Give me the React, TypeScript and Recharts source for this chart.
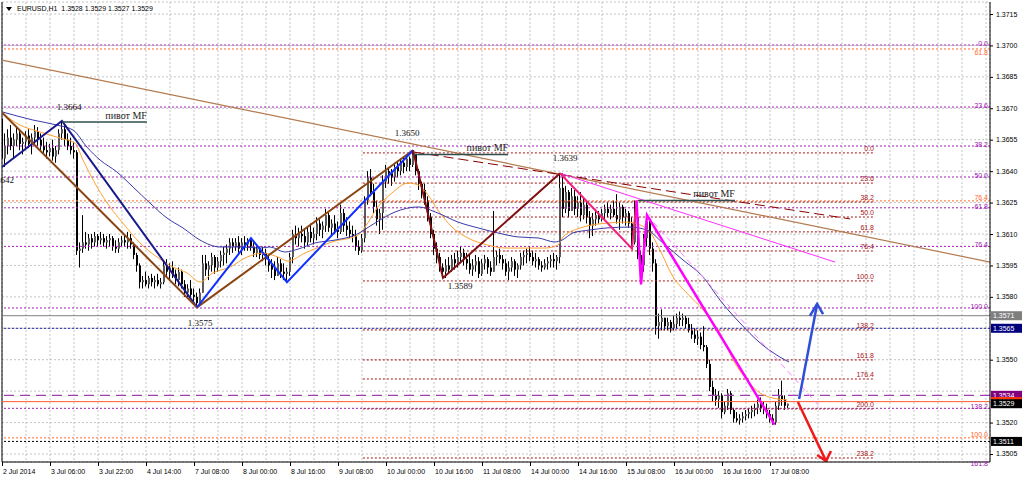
import React from 'react';
import { ComposedChart, Bar, Line, XAxis, YAxis, CartesianGrid, ReferenceLine, ReferenceDot } from 'recharts';

const W = 1024;
const H = 482;
const X_MIN = 0;
const X_MAX = 329.33;
const Y_MIN = 1.350118;
const Y_MAX = 1.372073;
const SANS = '"Liberation Sans", Arial, sans-serif';
const SERIF = '"Liberation Serif", "Times New Roman", serif';

// prices are kept in pips above 1.3500
const BASE = 1.35;
const px = (p: number) => BASE + p / 10000;

// ---- H1 candles (index = hour bar, 2 Jul 14:00 = 0) ----
const firstOpen = 165;
const highs = [
  168,158,160,162,158,161,160,156,159,160,
  158,162,161,158,156,154,153,155,152,160,
  164,162,158,156,154,150,106,119,111,110,
  110,111,110,111,110,109,110,109,107,108,
  109,110,111,110,106,101,96,90,92,90,
  91,90,91,89,97,98,96,97,93,94,
  93,88,86,88,84,82,84,100,100,97,
  101,100,99,102,104,105,108,108,108,109,
  108,109,108,108,106,105,104,104,103,100,
  98,97,99,98,96,94,101,112,114,113,
  114,112,113,115,113,118,117,116,122,120,
  117,119,116,124,122,118,116,114,112,107,
  110,128,140,141,134,126,122,138,143,142,
  141,144,145,146,147,148,147,150,148,141,
  135,134,128,120,112,106,101,96,98,99,
  100,101,102,104,103,101,100,98,100,99,
  98,100,99,97,121,102,103,100,98,97,
  99,98,96,101,102,103,104,102,101,99,
  97,98,99,100,101,100,139,139,133,131,
  132,131,128,130,127,126,121,120,122,121,
  122,124,125,124,126,129,125,124,122,121,
  118,126,120,102,110,119,118,106,98,72,
  74,70,70,69,71,72,73,72,71,70,
  67,65,64,63,66,57,50,40,36,35,
  34,30,36,35,27,25,24,25,26,27,
  28,29,31,32,30,29,26,24,30,36,
  40,33,29,
];
const lows = [
  142,142,148,150,146,152,150,148,150,151,
  148,153,152,150,148,146,147,145,144,148,
  155,152,150,148,146,100,94,101,103,102,
  103,104,104,105,104,103,104,102,101,101,
  104,104,103,103,98,92,84,84,85,84,
  85,84,85,84,86,90,88,89,86,85,
  84,80,79,80,78,75,76,82,90,88,
  92,91,92,94,95,96,100,101,102,101,
  100,102,102,102,99,99,98,97,95,92,
  89,88,90,89,88,87,90,96,105,104,
  106,103,104,106,105,107,109,108,111,111,
  109,110,108,110,111,109,108,106,102,100,
  101,106,124,128,120,114,110,112,132,134,
  133,135,137,138,139,140,140,142,138,131,
  127,124,116,108,100,96,92,89,89,91,
  92,93,94,96,95,93,91,90,92,89,
  90,93,91,90,92,95,96,93,90,88,
  92,90,89,93,95,96,97,95,94,93,
  92,93,93,94,94,93,96,118,120,118,
  122,119,118,116,117,115,108,109,114,115,
  116,117,118,117,118,115,112,115,114,113,
  103,105,98,86,92,104,100,92,62,60,
  64,64,64,63,64,65,66,66,65,63,
  60,58,57,55,54,46,35,30,28,27,
  22,24,26,24,20,20,19,20,21,22,
  22,23,24,25,24,22,20,19,19,26,
  28,26,27,
];
const closes = [
  146,152,156,152,155,158,153,154,157,153,
  156,159,155,152,150,149,151,147,150,158,
  160,155,152,150,149,102,103,106,105,108,
  106,109,107,108,106,107,108,104,103,106,
  107,106,108,105,100,95,87,88,86,89,
  87,88,86,87,95,92,94,91,88,92,
  86,82,84,81,80,77,82,96,93,95,
  99,94,97,100,101,103,106,104,106,103,
  106,105,107,104,101,103,100,101,98,95,
  93,90,96,92,91,92,99,110,108,110,
  109,106,111,108,110,115,112,114,119,113,
  115,112,111,120,114,112,110,109,104,102,
  108,126,137,130,123,117,120,135,140,139,
  137,142,140,144,142,146,143,148,140,134,
  131,126,118,110,103,99,94,92,95,93,
  98,96,99,101,98,96,93,95,97,91,
  96,98,94,92,99,100,98,96,92,94,
  97,93,95,99,100,101,99,97,98,95,
  94,96,97,98,97,99,132,122,130,121,
  128,122,125,119,124,118,114,117,119,117,
  120,122,120,122,119,117,123,118,120,115,
  106,118,100,95,108,116,103,96,66,68,
  70,66,68,65,67,70,69,70,67,64,
  62,60,61,57,56,48,37,33,31,33,
  25,28,34,26,22,21,22,23,24,25,
  26,27,29,27,26,24,22,20,28,33,
  31,28,29,
];

// ---- axes ----
const xLabels = ['2 Jul 2014','3 Jul 06:00','3 Jul 22:00','4 Jul 14:00','7 Jul 08:00','8 Jul 00:00','8 Jul 16:00','9 Jul 08:00','10 Jul 00:00','10 Jul 16:00','11 Jul 08:00','14 Jul 00:00','14 Jul 16:00','15 Jul 08:00','16 Jul 00:00','16 Jul 16:00','17 Jul 08:00'];
const xGridBars = [0,8,16,24,32,40,48,56,64,72,80,88,96,104,112,120,128,136,144,152,160,168,176,184,192,200,208,216,224,232,240,248,256,264,272,280,288,296,304,312,320,328];
const yTicks = [1.3505,1.352,1.3535,1.355,1.3565,1.358,1.3595,1.361,1.3625,1.364,1.3655,1.367,1.3685,1.37,1.3715];
const yTicksHidden = [1.3535, 1.3565];

// ---- moving averages (bar, pips) ----
const orangeMABars = [0,6,12.7,19.3,24.3,27,31.7,36,40.3,46,51.7,57,61.7,66,70.3,76,81.7,87,92,95.3,101,110,118.7,121,125.3,130,135.3,138.7,142,145.3,150,155.3,162,167.7,174.3,181,185.3,187,193.7,201.7,208.3,212.7,216,219.3,223.7,228.3,233.7,239.3,243.7,248.3,252.7,257,261.7];
const orangeMAPips = [167.7,162,158.7,155.8,153.4,145.3,132.4,122.9,115.2,105.7,99,94.2,91.4,87.1,91.4,94.2,99,100.9,99,97.1,100.9,106.2,109.5,113.3,122.9,129.6,134.3,133.4,128.6,121.4,113.3,108.1,104.7,103.3,103.3,103.3,104.7,108.6,113.3,115.2,115.7,114.3,111,102.4,89.5,81.8,73.7,62.7,49.9,40.3,34.1,31.7,30.8];
const navyMABars = [0.3,10.3,18.3,23.7,28.3,32.7,38.3,43.7,49.3,55,60.3,66,72.7,79.3,86,89.3,94.3,98.7,104.3,111,117.7,124.3,131,138.7,145.3,152,158.7,165.3,172,178.7,184.3,186.7,190.3,196,201.7,209.3,215,220.3,227,233.7,239.3,246,252.7,259.3,262.3];
const navyMAPips = [168.2,164.4,162,159.6,151.5,145.3,139.6,132.4,124.8,117.6,112.9,107.1,103.8,103.8,103.3,103.8,101.4,102.8,105.7,107.1,109.5,115.2,120.5,122.9,120,115.7,112.9,110.5,108.6,108.1,106.2,107.1,110.5,111.9,112.9,113.3,111.9,105.7,97.6,89.5,78.5,67.5,58,51.3,48.9];

// ---- zigzags ----
const navyZigBars = [0, 20, 65];
const navyZigPips = [142, 164, 75];
const brownZigBars = [0, 65, 137];
const brownZigPips = [168, 75, 150];
const blueZigBars = [65, 83, 95, 137];
const blueZigPips = [75, 108, 87, 150];
const maroonZigBars = [137, 147, 186];
const maroonZigPips = [150, 89, 139];
const pinkZigBars = [186, 210, 211.5];
const pinkZigPips = [139, 103, 126];
const magentaZigBars = [211.5, 213, 215, 257.5];
const magentaZigPips = [126, 86, 119, 19];

// ---- trend lines ----
const longTrendBars = [0, 329.33];
const longTrendPips = [193, 96.6];
const channelBars = [137.3, 282.7];
const channelPips = [149.1, 117.2];
const pinkTrendBars = [186, 277.7];
const pinkTrendPips = [139, 96.6];
const pinkDashBars = [215, 272.7];
const pinkDashPips = [119, 27.4];
const pivotBars = [[20, 48.3], [137.3, 168.7], [212, 244.3]];
const pivotPips = [163.5, 148, 126];
const pivotText = 'пивот MF';

// ---- arrows ----
const blueArrowBars = [265.7, 271.7];
const blueArrowPips = [31.2, 76.6];
const blueHeadBars = [269.3, 271.7, 273.7];
const blueHeadPips = [70.9, 76.6, 71.8];
const redArrowBars = [265.3, 274.7];
const redArrowPips = [29.8, 1.6];
const redHeadBars = [271.7, 274.7, 276.3];
const redHeadPips = [4.5, 1.6, 6.4];

// ---- swing labels ----
const swingBars = [20, 137, 186, 147, 65, 0];
const swingPips = [164, 150, 139, 89, 75, 142];
const swingText = ['1.3664', '1.3650', '1.3639', '1.3589', '1.3575', '1.3642'];

// ---- fibonacci levels ----
const purpleFibText = ['0.0','23.6','38.2','50.0','61.8','76.4','100.0','138.2','161.8'];
const purpleFibPrices = [1.37002,1.36706,1.3652,1.36372,1.36225,1.36041,1.35747,1.35268,1.34972];
const orangeFibText = ['61.8','76.4','100.0'];
const orangeFibPrices = [1.36983,1.36258,1.35127];
const redFibText = ['0.0','23.6','38.2','50.0','61.8','76.4','100.0','138.2','161.8','176.4','200.0','238.2'];
const redFibPrices = [1.36487,1.36343,1.36253,1.36181,1.3611,1.36019,1.35876,1.35642,1.35499,1.35408,1.35265,1.35031];
const redFibBars = [120.3, 291];

// ---- horizontal price lines / axis boxes ----
const boxPrices = [1.3571, 1.3565, 1.3533, 1.3530, 1.3529, 1.3511];
const boxText = ['1.3571', '1.3565', '1.3534', '1.3531', '1.3529', '1.3511'];
const boxColors = ['#7f7f7f', '#00007f', '#800080', '#ff3300', '#000000', '#000000'];

const titleText = 'EURUSD,H1  1.3528 1.3529 1.3527 1.3529';

const candles = closes.map((c, i) => {
  const o = i === 0 ? firstOpen : closes[i - 1];
  const h = Math.max(highs[i], o, c);
  const l = Math.min(lows[i], o, c);
  return { x: i, o: px(o), h: px(h), l: px(l), c: px(c) };
});

const pts = (bars: number[], pips: number[]) => bars.map((b, i) => ({ x: b, y: px(pips[i]) }));

const poly = (key: string, data: any[], color: string, width: number, dash?: string, type: any = 'linear') => (
  <Line key={key} data={data} dataKey="y" type={type} stroke={color} strokeWidth={width} strokeDasharray={dash}
    dot={false} activeDot={false} isAnimationActive={false} legendType="none" connectNulls />
);

const Candle = (props: any) => {
  const { x, y, width, height, payload } = props;
  if (x == null || y == null || !payload) return <g />;
  const xi = Math.round(x + width / 2) - 1;
  const range = payload.h - payload.l;
  const yOf = (v: number) => (range > 0 ? y + ((payload.h - v) / range) * height : y);
  const yo = yOf(payload.o);
  const yc = yOf(payload.c);
  const top = Math.min(yo, yc);
  const bot = Math.max(yo, yc);
  const up = payload.c >= payload.o;
  return (
    <g>
      <line x1={xi + 0.5} x2={xi + 0.5} y1={y} y2={y + height} stroke="#000" strokeWidth={1} />
      <rect x={xi} y={top} width={2} height={Math.max(1, bot - top)} fill={up ? '#5a5a5a' : '#000'} />
    </g>
  );
};

const XTick = (props: any) => {
  const { x, y, payload } = props;
  const v = payload.value;
  if (v % 16 !== 0 || !xLabels[v / 16]) return <g />;
  return (
    <g>
      <line x1={x + 0.5} x2={x + 0.5} y1={y} y2={y + 4} stroke="#000" />
      <text x={x + 1} y={y + 12} fontSize={7} fontFamily={SANS} fill="#000">{xLabels[v / 16]}</text>
    </g>
  );
};

const YTick = (props: any) => {
  const { x, y, payload } = props;
  if (yTicksHidden.some((t) => Math.abs(t - payload.value) < 1e-7)) return <g />;
  return (
    <g>
      <line x1={x} x2={x + 3} y1={y + 0.5} y2={y + 0.5} stroke="#000" />
      <text x={x + 6} y={y + 2.5} fontSize={7} fontFamily={SANS} fill="#000">{payload.value.toFixed(4)}</text>
    </g>
  );
};

const tag = (key: string, bx: number, price: number, text: string, o: any) => (
  <ReferenceDot key={key} x={bx} y={price} r={0} ifOverflow="visible" fill="none" stroke="none"
    label={(lp: any) => {
      const vb = lp.viewBox || { x: 0, y: 0 };
      return (
        <text x={vb.x + (o.dx || 0)} y={vb.y + (o.dy || 0)} textAnchor={o.anchor || 'start'}
          fontSize={o.size || 7} fill={o.color || '#000'} fontFamily={o.family || SANS}>{text}</text>
      );
    }} />
);

const box = (key: string, price: number, text: string, color: string) => (
  <ReferenceDot key={key} x={X_MAX} y={price} r={0} ifOverflow="visible" fill="none" stroke="none"
    label={(lp: any) => {
      const vb = lp.viewBox || { x: 0, y: 0 };
      return (
        <g>
          <rect x={vb.x + 1} y={vb.y - 4.5} width={31} height={9} fill={color} />
          <text x={vb.x + 3} y={vb.y + 2.5} fontSize={7} fill="#fff" fontFamily={SANS}>{text}</text>
        </g>
      );
    }} />
);

const swingOffsets = [
  { dx: 7, dy: -11, anchor: 'middle' },
  { dx: -6, dy: -14, anchor: 'middle' },
  { dx: 5, dy: -12, anchor: 'middle' },
  { dx: 17, dy: 11, anchor: 'middle' },
  { dx: 3, dy: 19, anchor: 'middle' },
  { dx: 12, dy: 16, anchor: 'end' },
];

export default function App() {
  return (
    <div style={{ position: 'absolute', left: 0, top: 0, width: W, height: H, background: '#fff', fontFamily: SANS }}>
      <ComposedChart width={W} height={H} data={candles} margin={{ top: 2, right: 0, bottom: 0, left: 2 }}>
        <CartesianGrid stroke="#c4c4c4" strokeDasharray="2 2" />
        <XAxis dataKey="x" type="number" domain={[X_MIN, X_MAX]} allowDataOverflow ticks={xGridBars} interval={0}
          tick={(p: any) => <XTick {...p} />} tickLine={false} tickSize={0} tickMargin={0}
          axisLine={{ stroke: '#000' }} height={20} />
        <YAxis orientation="right" type="number" domain={[Y_MIN, Y_MAX]} allowDataOverflow ticks={yTicks} interval={0}
          tick={(p: any) => <YTick {...p} />} tickLine={false} tickSize={0} tickMargin={0}
          axisLine={{ stroke: '#000' }} width={34} />
        <ReferenceLine x={X_MIN} stroke="#000" />

        {purpleFibPrices.map((p, i) => (
          <ReferenceLine key={'pfl' + i} y={p} stroke="#a020b0" strokeDasharray="2 2" />
        ))}
        {orangeFibPrices.map((p, i) => (
          <ReferenceLine key={'ofl' + i} y={p} stroke="#ff6a2a" strokeDasharray="2 2" />
        ))}
        {redFibPrices.map((p, i) => (
          <ReferenceLine key={'rfl' + i} segment={[{ x: redFibBars[0], y: p }, { x: redFibBars[1], y: p }]} stroke="#a31515" strokeDasharray="2 2" />
        ))}
        <ReferenceLine y={boxPrices[0]} stroke="#808080" />
        <ReferenceLine y={boxPrices[1]} stroke="#1a1aa0" strokeDasharray="2 2" />
        <ReferenceLine y={boxPrices[2]} stroke="#a040b0" strokeDasharray="10 6" strokeWidth={1.2} />
        <ReferenceLine y={boxPrices[3]} stroke="#ff5a2a" />
        <ReferenceLine y={boxPrices[5]} stroke="#000" strokeDasharray="2 2" />

        <Bar dataKey={(d: any) => [d.l, d.h]} shape={Candle} barSize={3} isAnimationActive={false} legendType="none" />

        {poly('oma', pts(orangeMABars, orangeMAPips), '#ffa030', 1, undefined, 'monotone')}
        {poly('nma', pts(navyMABars, navyMAPips), '#3a3aa8', 1, undefined, 'monotone')}
        {poly('ltr', pts(longTrendBars, longTrendPips), '#b47a4e', 1.2)}
        {poly('chn', pts(channelBars, channelPips), '#8b0000', 1, '10 5')}
        {poly('ptr', pts(pinkTrendBars, pinkTrendPips), '#ff30ff', 1)}
        {poly('pds', pts(pinkDashBars, pinkDashPips), '#ff80ff', 1, '6 4')}
        {poly('nzz', pts(navyZigBars, navyZigPips), '#1a1a8c', 2)}
        {poly('bzz', pts(brownZigBars, brownZigPips), '#8b4513', 2)}
        {poly('blz', pts(blueZigBars, blueZigPips), '#1030ff', 2)}
        {poly('mzz', pts(maroonZigBars, maroonZigPips), '#801010', 2)}
        {poly('pzz', pts(pinkZigBars, pinkZigPips), '#f0207f', 2)}
        {poly('gzz', pts(magentaZigBars, magentaZigPips), '#ff00ff', 2.5)}
        {pivotBars.map((b, i) => poly('pv' + i, pts(b, [pivotPips[i], pivotPips[i]]), '#2f4f4f', 1.5))}
        {poly('ba1', pts(blueArrowBars, blueArrowPips), '#2e4fd8', 2.5)}
        {poly('ba2', pts(blueHeadBars, blueHeadPips), '#2e4fd8', 2.5)}
        {poly('ra1', pts(redArrowBars, redArrowPips), '#f01818', 2.5)}
        {poly('ra2', pts(redHeadBars, redHeadPips), '#f01818', 2.5)}

        {purpleFibPrices.map((p, i) => tag('pft' + i, X_MAX, p, purpleFibText[i], { dx: -2, dy: i === 8 ? -4 : 1, anchor: 'end', color: '#a020b0' }))}
        {orangeFibPrices.map((p, i) => tag('oft' + i, X_MAX, p, orangeFibText[i], { dx: -2, dy: i === 0 ? 6 : -1, anchor: 'end', color: '#ff6a2a' }))}
        {redFibPrices.map((p, i) => tag('rft' + i, redFibBars[1], p, redFibText[i], { dx: -1, dy: -2, anchor: 'end', color: '#a31515' }))}
        {pivotBars.map((b, i) => tag('pvt' + i, b[1], px(pivotPips[i]), pivotText, { dx: 0, dy: -3, anchor: 'end', size: 10, family: SERIF, color: '#222' }))}
        {swingBars.map((b, i) => tag('sw' + i, b, px(swingPips[i]), swingText[i], { ...swingOffsets[i], size: 9, family: SERIF, color: '#111' }))}

        {boxPrices.map((p, i) => box('bx' + i, p, boxText[i], boxColors[i]))}
      </ComposedChart>
      <div style={{ position: 'absolute', left: 5, top: 4, fontSize: 7, fontFamily: SANS, color: '#000', whiteSpace: 'pre', lineHeight: '9px', display: 'flex', alignItems: 'center' }}>
        <svg width={8} height={6} style={{ marginRight: 4 }}><polygon points="1,1 7,1 4,5" fill="#000" /></svg>
        {titleText}
      </div>
    </div>
  );
}
